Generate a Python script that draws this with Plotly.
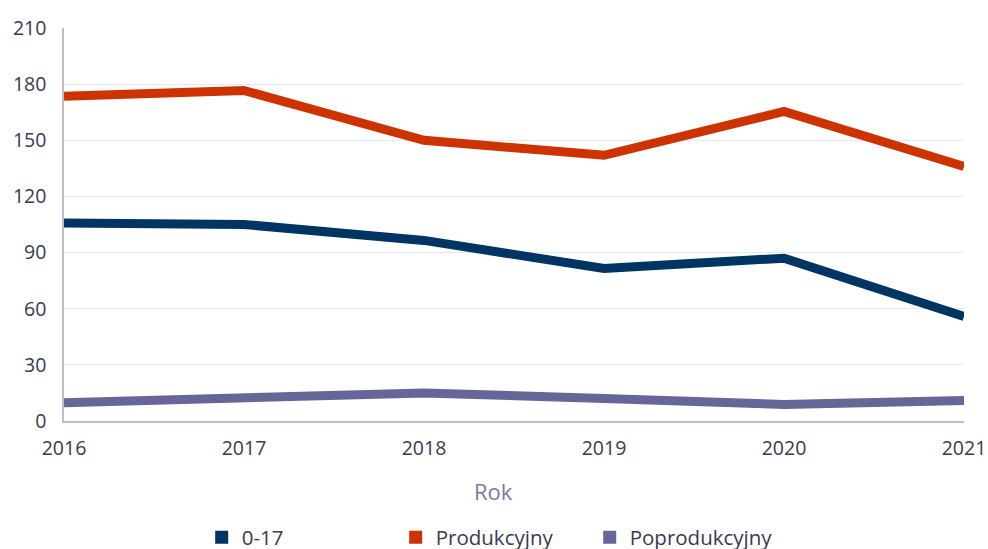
import plotly.graph_objects as go

years = [2016, 2017, 2018, 2019, 2020, 2021]
age_0_17 = [105.8, 105.0, 96.5, 81.5, 87.0, 55.8]
produkcyjny = [173.5, 176.6, 150.0, 142.0, 165.4, 136.0]
poprodukcyjny = [9.7, 12.0, 15.0, 12.0, 8.8, 10.9]
names = ["0-17", "Produkcyjny", "Poprodukcyjny"]
colors = ["#003462", "#cc3300", "#666699"]
y_ticks = [0, 30, 60, 90, 120, 150, 180, 210]

fig = go.Figure()
for name, vals, col in zip(names, [age_0_17, produkcyjny, poprodukcyjny], colors):
    fig.add_trace(go.Scatter(x=years, y=vals, mode="lines", name=name,
                             line=dict(color=col, width=9), showlegend=False,
                             hoverinfo="x+y+name"))
for name, col in zip(names, colors):
    fig.add_trace(go.Scatter(x=[None], y=[None], mode="markers", name=name,
                             marker=dict(symbol="square", size=13, color=col)))

font_family = "Open Sans, Noto Sans, sans-serif"
text_col = "#3a3a50"
fig.update_layout(
    width=988, height=569,
    margin=dict(l=64, r=24, t=28, b=135),
    plot_bgcolor="white", paper_bgcolor="white",
    font=dict(family=font_family, size=19.5, color=text_col),
    xaxis=dict(range=[2016, 2021], tickvals=years, ticktext=[str(y) for y in years],
               showgrid=False, showline=True, linecolor="#bcbccf", linewidth=1.5,
               zeroline=False, ticks="", ticklabelstandoff=9, automargin=False),
    yaxis=dict(range=[0, 210], tickvals=y_ticks, showgrid=True, gridcolor="#e8e8f0",
               gridwidth=1, showline=True, linecolor="#bcbccf", linewidth=1.5,
               zeroline=False, ticks="", ticklabelstandoff=12, automargin=False),
    legend=dict(orientation="h", x=0.153, xanchor="left", y=-0.296, yanchor="middle",
                entrywidth=149, entrywidthmode="pixels",
                font=dict(size=20.5, color=text_col)),
    annotations=[dict(text="Rok", xref="paper", yref="paper", x=0.477, y=-0.177,
                      xanchor="center", yanchor="middle", showarrow=False,
                      font=dict(size=22, color="#7a7aa0"))],
)

post = """
var h=document.documentElement, b=document.body;
h.style.margin='0'; h.style.padding='0'; h.style.overflow='hidden';
b.style.margin='0'; b.style.padding='0'; b.style.overflow='hidden';
"""
fig.write_html("out.html", config={"displayModeBar": False}, post_script=post)
